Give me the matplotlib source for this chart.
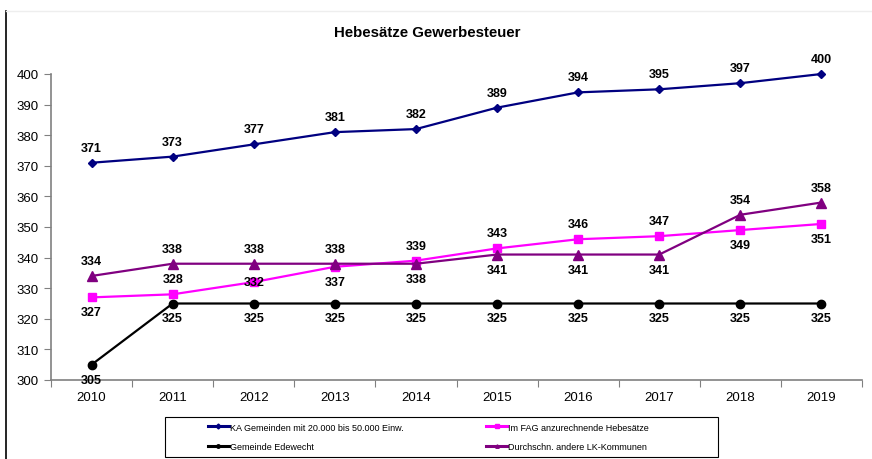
import matplotlib
matplotlib.use("Agg")
import matplotlib.pyplot as plt
from matplotlib.lines import Line2D
from matplotlib.patches import Rectangle

plt.rcParams["font.family"] = ["Liberation Sans", "DejaVu Sans"]

# Data
years = [2010, 2011, 2012, 2013, 2014, 2015, 2016, 2017, 2018, 2019]

ka_gemeinden = [371, 373, 377, 381, 382, 389, 394, 395, 397, 400]
fag_hebesaetze = [327, 328, 332, 337, 339, 343, 346, 347, 349, 351]
edewecht = [305, 325, 325, 325, 325, 325, 325, 325, 325, 325]
lk_kommunen = [334, 338, 338, 338, 338, 341, 341, 341, 354, 358]

# label side: 1 above, -1 below, 0 on point
ka_side = [1, 1, 1, 1, 1, 1, 1, 1, 1, 1]
fag_side = [-1, 1, 0, -1, 1, 1, 1, 1, -1, -1]
ede_side = [-1, -1, -1, -1, -1, -1, -1, -1, -1, -1]
lk_side = [1, 1, 1, 1, -1, -1, -1, -1, 1, 1]

fig = plt.figure(figsize=(8.72, 4.6), dpi=100)
ax = fig.add_axes([51 / 872, 1 - 381 / 460, 811 / 872, 306 / 460])

x = list(range(len(years)))

series = [
    (ka_gemeinden, ka_side, "#000080", "D", 4.5, "KA Gemeinden mit 20.000 bis 50.000 Einw."),
    (edewecht, ede_side, "#000000", "o", 6, "Gemeinde Edewecht"),
    (fag_hebesaetze, fag_side, "#FF00FF", "s", 6, "Im FAG anzurechnende Hebesätze"),
    (lk_kommunen, lk_side, "#800080", "^", 6.5, "Durchschn. andere LK-Kommunen"),
]

handles = []
for values, sides, color, marker, msize, label in series:
    ax.plot(x, values, color=color, linewidth=1.6, marker=marker,
            markersize=msize, clip_on=False)
    handles.append(Line2D([0], [0], color=color, linewidth=2.2,
                          marker=marker, markersize=2.5, label=label))

# data labels
for values, sides, color, marker, msize, label in series:
    for xi, v, s in zip(x, values, sides):
        dy = 15 * s
        ax.annotate(str(v), (xi, v), xytext=(0, dy), textcoords="offset pixels",
                    ha="center", va="center", fontsize=9, fontweight="bold",
                    color="#000000")

ax.set_xlim(-0.5, len(years) - 0.5)
ax.set_ylim(300, 400)
ax.set_yticks(range(300, 401, 10))

# category axis: ticks between categories, labels centered
ax.set_xticks([i - 0.5 for i in range(len(years) + 1)])
ax.set_xticklabels([])
ax.set_xticks(x, minor=True)
ax.set_xticklabels([str(y) for y in years], minor=True)
ax.tick_params(axis="x", which="minor", length=0, labelsize=9.5, pad=8)
ax.tick_params(axis="x", which="major", length=5, direction="out",
               color="#808080")
ax.tick_params(axis="y", length=5, direction="out", color="#808080",
               labelsize=9.5, pad=4)

for side in ["top", "right"]:
    ax.spines[side].set_visible(False)
for side in ["left", "bottom"]:
    ax.spines[side].set_color("#808080")
    ax.spines[side].set_linewidth(1.2)

# Title
fig.text(427 / 872, 1 - 33 / 460, "Hebesätze Gewerbesteuer",
         ha="center", va="center", fontsize=10.8, fontweight="bold")

# Legend frame
fig.add_artist(Rectangle((165 / 872, 2 / 460), 553 / 872, 40 / 460,
                         transform=fig.transFigure, fill=False,
                         edgecolor="#000000", linewidth=0.8))

leg = fig.legend(handles=handles, ncol=2, loc="center left",
                 bbox_to_anchor=(208 / 872, 1 - 438 / 460),
                 fontsize=6.5, frameon=False,
                 handlelength=2.3, handletextpad=0.1, borderaxespad=0,
                 labelspacing=1.2, borderpad=0, columnspacing=9.2)

# chart frame lines
fig.add_artist(Line2D([6 / 872, 6 / 872], [0, 1 - 12 / 460],
                      color="#000000", linewidth=1.2))
fig.add_artist(Line2D([6 / 872, 1], [1 - 12 / 460, 1 - 12 / 460],
                      color="#eeeeee", linewidth=1))

fig.savefig("out.png", dpi=100)
